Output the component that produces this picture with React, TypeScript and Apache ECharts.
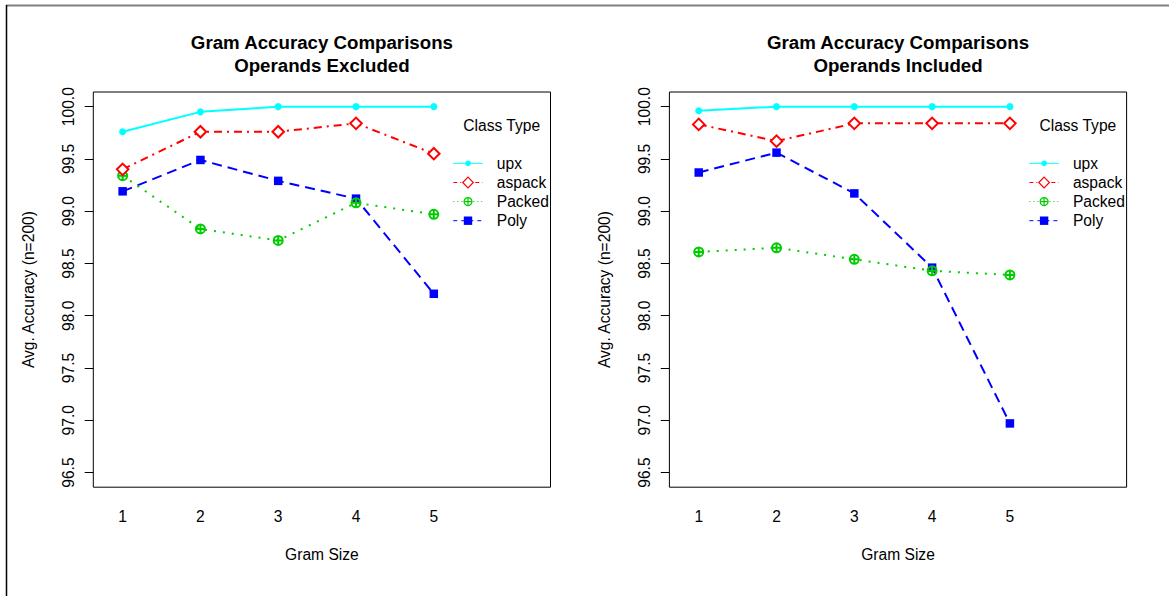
import React, { useEffect, useRef } from "react";
import * as echarts from "echarts";

const grams = [1, 2, 3, 4, 5];
const seriesNames = ["upx", "aspack", "Packed", "Poly"];
const yTicks = [96.5, 97.0, 97.5, 98.0, 98.5, 99.0, 99.5, 100.0];

// Operands Excluded
const excUpx = [99.76, 99.95, 100.0, 100.0, 100.0];
const excAspack = [99.4, 99.76, 99.76, 99.84, 99.55];
const excPacked = [99.34, 98.83, 98.72, 99.08, 98.97];
const excPoly = [99.19, 99.49, 99.29, 99.12, 98.21];

// Operands Included
const incUpx = [99.96, 100.0, 100.0, 100.0, 100.0];
const incAspack = [99.83, 99.67, 99.84, 99.84, 99.84];
const incPacked = [98.61, 98.65, 98.54, 98.43, 98.39];
const incPoly = [99.37, 99.56, 99.17, 98.46, 96.97];

const titleLine1 = "Gram Accuracy Comparisons";
const titleLines2 = ["Operands Excluded", "Operands Included"];
const legendTitle = "Class Type";
const xName = "Gram Size";
const yName = "Avg. Accuracy (n=200)";

const FONT = "'Liberation Sans', Arial, Helvetica, sans-serif";
const COLORS = ["#00FFFF", "#FF0000", "#00CD00", "#0000FF"];
const PLUS_CIRCLE = "path://M0,-5A5,5 0 1,1 0,5A5,5 0 1,1 0,-5ZM-5,0L5,0M0,-5L0,5";
const LINE_DASH: any[] = [null, [8, 5, 2, 5], [2, 7], [10, 6]];
const LEGEND_DASH: any[] = [null, [4, 3, 1, 3], [1, 3], [4, 4]];

export default function App() {
  const ref = useRef<HTMLDivElement>(null);
  useEffect(() => {
    document.body.style.margin = "0";
    const chart = echarts.init(ref.current!, null, { renderer: "svg" });
    const panels = [
      { data: [excUpx, excAspack, excPacked, excPoly], left: 93.3, cx: 321.9, legX: 453.3 },
      { data: [incUpx, incAspack, incPacked, incPoly], left: 669.4, cx: 898, legX: 1029.4 },
    ];
    const gridTop = 92;
    const gridW = 457.2;
    const gridH = 395.2;

    const styleFor = (i: number) => {
      const c = COLORS[i];
      const lineStyle = { color: c, width: 2, type: LINE_DASH[i] || "solid" };
      if (i === 0) return { symbol: "circle", symbolSize: 7, itemStyle: { color: c }, lineStyle };
      if (i === 1)
        return { symbol: "diamond", symbolSize: 11.5, itemStyle: { color: "#ffffff", borderColor: c, borderWidth: 2 }, lineStyle };
      if (i === 2)
        return { symbol: PLUS_CIRCLE, symbolSize: 9, itemStyle: { color: "rgba(0,0,0,0)", borderColor: c, borderWidth: 2 }, lineStyle };
      return { symbol: "rect", symbolSize: 8.5, itemStyle: { color: c }, lineStyle };
    };

    const series: any[] = [];
    panels.forEach((p, pi) => {
      p.data.forEach((vals, si) => {
        series.push({
          type: "line",
          name: seriesNames[si],
          xAxisIndex: pi,
          yAxisIndex: pi,
          data: grams.map((g, k) => [g, vals[k]]),
          color: COLORS[si],
          showAllSymbol: true,
          z: 10 - si,
          ...styleFor(si),
        });
      });
    });

    const graphics: any[] = [
      { type: "line", shape: { x1: 6, y1: 5.5, x2: 1169, y2: 5.5 }, style: { stroke: "#808080", lineWidth: 2 } },
      { type: "line", shape: { x1: 6.5, y1: 5, x2: 6.5, y2: 596 }, style: { stroke: "#000000", lineWidth: 1.5 } },
    ];
    const rowY = [163.3, 182.5, 201.6, 220.7];
    panels.forEach((p, pi) => {
      graphics.push(
        { type: "text", x: p.cx, y: 42.5, style: { text: titleLine1, font: `bold 18.7px ${FONT}`, fill: "#000", textAlign: "center", textVerticalAlign: "middle" } },
        { type: "text", x: p.cx, y: 65.1, style: { text: titleLines2[pi], font: `bold 18.7px ${FONT}`, fill: "#000", textAlign: "center", textVerticalAlign: "middle" } },
        { type: "text", x: p.legX + 10, y: 125, style: { text: legendTitle, font: `15.6px ${FONT}`, fill: "#000", textAlign: "left", textVerticalAlign: "middle" } }
      );
      seriesNames.forEach((name, si) => {
        const y = rowY[si];
        const mx = p.legX + 14.7;
        const c = COLORS[si];
        graphics.push({
          type: "line",
          shape: { x1: p.legX, y1: y, x2: p.legX + 29.4, y2: y },
          style: { stroke: c, lineWidth: 1, lineDash: LEGEND_DASH[si] || null },
        });
        if (si === 0) {
          graphics.push({ type: "circle", shape: { cx: mx, cy: y, r: 2.8 }, style: { fill: c } });
        } else if (si === 1) {
          graphics.push({
            type: "polygon",
            shape: { points: [[mx, y - 5.3], [mx + 5.3, y], [mx, y + 5.3], [mx - 5.3, y]] },
            style: { fill: "#fff", stroke: c, lineWidth: 1.2 },
          });
        } else if (si === 2) {
          graphics.push(
            { type: "circle", shape: { cx: mx, cy: y, r: 4 }, style: { fill: "#fff", stroke: c, lineWidth: 1.2 } },
            { type: "line", shape: { x1: mx - 4, y1: y, x2: mx + 4, y2: y }, style: { stroke: c, lineWidth: 1.2 } },
            { type: "line", shape: { x1: mx, y1: y - 4, x2: mx, y2: y + 4 }, style: { stroke: c, lineWidth: 1.2 } }
          );
        } else {
          graphics.push({ type: "rect", shape: { x: mx - 4.2, y: y - 4.2, width: 8.4, height: 8.4 }, style: { fill: c } });
        }
        graphics.push({
          type: "text",
          x: p.legX + 43.5,
          y: y,
          style: { text: name, font: `15.6px ${FONT}`, fill: "#000", textAlign: "left", textVerticalAlign: "middle" },
        });
      });
    });

    chart.setOption({
      animation: false,
      backgroundColor: "#ffffff",
      grid: panels.map((p) => ({
        left: p.left,
        top: gridTop,
        width: gridW,
        height: gridH,
        show: true,
        borderColor: "#000",
        borderWidth: 1,
        backgroundColor: "transparent",
      })),
      xAxis: panels.map((p, pi) => ({
        type: "value",
        gridIndex: pi,
        min: 0.623,
        max: 6.5,
        name: xName,
        nameLocation: "middle",
        nameGap: 59,
        nameTextStyle: { fontSize: 15.6, fontFamily: FONT, color: "#000" },
        axisLine: { show: false },
        axisTick: { show: false },
        splitLine: { show: false },
        axisLabel: {
          customValues: grams,
          margin: 21,
          fontSize: 15.6,
          fontFamily: FONT,
          color: "#000",
          formatter: (v: number) => String(v),
        },
      })),
      yAxis: panels.map((p, pi) => ({
        type: "value",
        gridIndex: pi,
        min: 96.36,
        max: 100.14,
        name: yName,
        nameLocation: "middle",
        nameRotate: 90,
        nameGap: 57,
        nameTextStyle: { fontSize: 15.6, fontFamily: FONT, color: "#000" },
        axisLine: { show: false },
        splitLine: { show: false },
        axisTick: { show: true, customValues: yTicks, length: 8.6, lineStyle: { color: "#000", width: 1 } },
        axisLabel: {
          customValues: yTicks,
          rotate: 90,
          margin: 17,
          fontSize: 15.6,
          fontFamily: FONT,
          color: "#000",
          formatter: (v: number) => v.toFixed(1),
        },
      })),
      series,
      graphic: graphics,
    });
    return () => chart.dispose();
  }, []);
  return <div ref={ref} style={{ position: "fixed", left: 0, top: 0, width: 1169, height: 596 }} />;
}
